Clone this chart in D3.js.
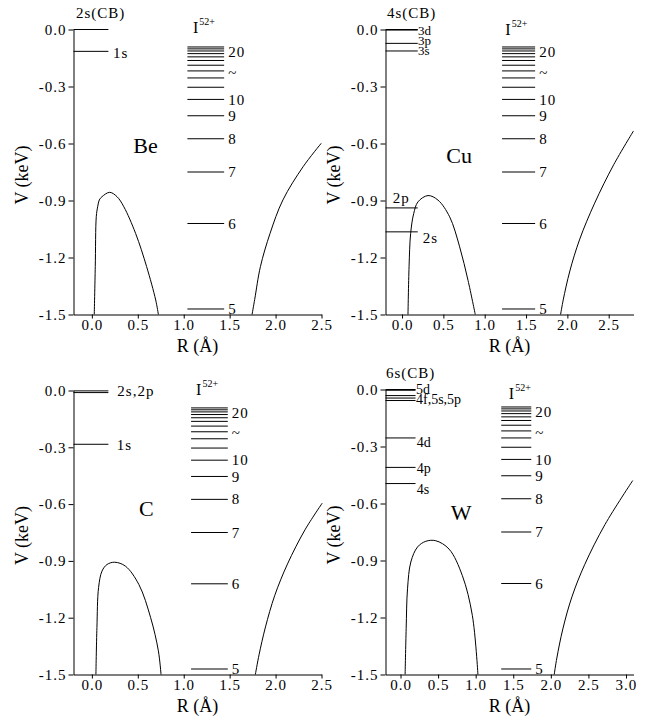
<!DOCTYPE html>
<html>
<head>
<meta charset="utf-8">
<script src="https://cdn.jsdelivr.net/npm/d3@7"></script>
<style>
  body { margin: 0; background: #fff; }
  svg text { font-family: "Liberation Serif", "Times New Roman", serif; fill: #000; }
  .tick text { font-size: 15px; letter-spacing: 1px; }
  .domain, .tick line { stroke: #000; stroke-width: 1; }
</style>
</head>
<body>
<div id="chart"></div>
<script>
// shared y ticks (keV)
const yTicks = [0, -0.3, -0.6, -0.9, -1.2, -1.5];

// I52+ levels n = 5 ... 20 (keV)
const ionN = [5, 6, 7, 8, 9, 10, 11, 12, 13, 14, 15, 16, 17, 18, 19, 20];
const ionV = [-1.471, -1.021, -0.750, -0.575, -0.454, -0.368, -0.304, -0.255,
              -0.218, -0.188, -0.163, -0.144, -0.127, -0.113, -0.102, -0.092];
const ionLabels = ["5", "6", "7", "8", "9", "10", "~", "20"];
const ionLabelV = [-1.471, -1.021, -0.750, -0.575, -0.454, -0.368, -0.226, -0.117];

// Be
const beXTicks = [0, 0.5, 1, 1.5, 2, 2.5];
const beLevelV = [0, -0.115];
const beLevelNames = ["2s(CB)", "1s"];
const beHumpR = [0.026, 0.037, 0.048, 0.063, 0.081, 0.11, 0.194, 0.274, 0.348, 0.476, 0.596, 0.695, 0.724];
const beHumpV = [-1.5, -1.248, -0.985, -0.933, -0.897, -0.88, -0.857, -0.88, -0.933, -1.073, -1.248, -1.424, -1.5];
const beWallR = [1.744, 1.773, 1.835, 1.94, 2.08, 2.30, 2.497];
const beWallV = [-1.5, -1.42, -1.248, -1.073, -0.897, -0.722, -0.599];

// Cu
const cuXTicks = [0, 0.5, 1, 1.5, 2, 2.5];
const cuLevelV = [0, -0.003, -0.073, -0.113, -0.939, -1.065];
const cuLevelNames = ["4s(CB)", "3d", "3p", "3s", "2p", "2s"];
const cuHumpR = [0.072, 0.085, 0.104, 0.141, 0.193, 0.314, 0.435, 0.576, 0.697, 0.798, 0.886];
const cuHumpV = [-1.5, -1.249, -1.074, -0.969, -0.907, -0.874, -0.898, -0.986, -1.144, -1.32, -1.5];
const cuWallR = [1.918, 1.95, 2.03, 2.15, 2.33, 2.56, 2.80];
const cuWallV = [-1.5, -1.423, -1.271, -1.103, -0.914, -0.712, -0.534];

// C
const cXTicks = [0, 0.5, 1, 1.5, 2, 2.5];
const cLevelV = [-0.002, -0.011, -0.284];
const cLevelNames = ["2s,2p", "", "1s"];
const cHumpR = [0.044, 0.055, 0.073, 0.11, 0.165, 0.249, 0.366, 0.512, 0.640, 0.724, 0.753];
const cHumpV = [-1.5, -1.252, -1.041, -0.954, -0.919, -0.907, -0.928, -1.025, -1.2, -1.375, -1.5];
const cWallR = [1.78, 1.82, 1.89, 1.99, 2.13, 2.32, 2.508];
const cWallV = [-1.5, -1.396, -1.249, -1.084, -0.916, -0.736, -0.595];

// W
const wXTicks = [0, 0.5, 1, 1.5, 2, 2.5, 3];
const wLevelV = [0, -0.004, -0.032, -0.045, -0.058, -0.255, -0.41, -0.495];
const wLevelNames = ["6s(CB)", "5d", "4f,5s,5p", "", "", "4d", "4p", "4s"];
const wHumpR = [0.061, 0.075, 0.093, 0.137, 0.226, 0.336, 0.469, 0.646, 0.823, 0.956, 1.03];
const wHumpV = [-1.5, -1.259, -1.049, -0.908, -0.829, -0.799, -0.796, -0.84, -0.98, -1.19, -1.5];
const wWallR = [2.045, 2.08, 2.16, 2.28, 2.45, 2.72, 3.09];
const wWallV = [-1.5, -1.413, -1.26, -1.092, -0.922, -0.711, -0.479];

// layout: [x, baselineOffset, fontSize] per level label, px
const panels = [
  { name: "Be", left: 73.5, top: 29.5, h: 285, xMax: 2.5, xTicks: beXTicks,
    levelV: beLevelV, levelNames: beLevelNames, levelEnd: 0.18,
    labelPos: [[2.5, -11.5, 15], [39.5, 6.5, 15]],
    humpR: beHumpR, humpV: beHumpV, wallR: beWallR, wallV: beWallV,
    ladder: [1.04, 1.44], ionDx: 5.6, ionDy: 3.8, nameAt: [0.45, -0.65] },
  { name: "Cu", left: 385.5, top: 29.5, h: 285, xMax: 2.8, xTicks: cuXTicks,
    levelV: cuLevelV, levelNames: cuLevelNames, levelEnd: 0.19,
    labelPos: [[1.5, -11.2, 15], [32.5, 5, 13], [32.5, 1.6, 13], [32.5, 4, 13], [7.2, -5, 15], [37.2, 11.4, 15]],
    humpR: cuHumpR, humpV: cuHumpV, wallR: cuWallR, wallV: cuWallV,
    ladder: [1.21, 1.61], ionDx: 3.3, ionDy: 5.5, nameAt: [0.536, -0.705] },
  { name: "C", left: 73.5, top: 390.5, h: 284, xMax: 2.5, xTicks: cXTicks,
    levelV: cLevelV, levelNames: cLevelNames, levelEnd: 0.18,
    labelPos: [[43.8, 5, 15], null, [43.2, 5.8, 15]],
    humpR: cHumpR, humpV: cHumpV, wallR: cWallR, wallV: cWallV,
    ladder: [1.08, 1.48], ionDx: 5, ionDy: 4.8, nameAt: [0.512, -0.665] },
  { name: "W", left: 385.5, top: 389.5, h: 285, xMax: 3.1, xTicks: wXTicks,
    levelV: wLevelV, levelNames: wLevelNames, levelEnd: 0.2,
    labelPos: [[0.5, -11.5, 15], [30.5, 3.7, 14], [30.5, 8, 14], null, null, [31.2, 9, 14], [31.2, 5.3, 14], [31.2, 10, 14]],
    humpR: wHumpR, humpV: wHumpV, wallR: wWallR, wallV: wWallV,
    ladder: [1.34, 1.74], ionDx: 7.6, ionDy: 9.2, nameAt: [0.667, -0.689] }
];

const W = 652, H = 725, plotW = 248;
const fmt = d => d.toFixed(1);

const svg = d3.select('#chart').append('svg')
  .attr('width', W).attr('height', H);

panels.forEach(p => {
  const x = d3.scaleLinear().domain([-0.2, p.xMax]).range([0, plotW]);
  const y = d3.scaleLinear().domain([-1.5, 0]).range([p.h, 0]);

  const g = svg.append('g').attr('transform', `translate(${p.left}, ${p.top})`);

  // axes
  g.append('g')
    .attr('transform', `translate(0, ${p.h})`)
    .call(d3.axisBottom(x).tickValues(p.xTicks).tickFormat(fmt).tickSize(4).tickSizeOuter(0).tickPadding(1));
  g.append('g')
    .call(d3.axisLeft(y).tickValues(yTicks).tickFormat(fmt).tickSize(5).tickSizeOuter(0).tickPadding(2));

  g.append('text')
    .attr('x', plotW / 2).attr('y', p.h + 37)
    .attr('text-anchor', 'middle')
    .style('font-size', '18px')
    .text('R (Å)');
  g.append('text')
    .attr('transform', `translate(-45.5, ${p.h / 2 + 3}) rotate(-90)`)
    .attr('text-anchor', 'middle')
    .style('font-size', '18px')
    .text('V (keV)');

  // potential curves (smooth through the read-off points)
  const line = d3.line()
    .x(d => x(d[0]))
    .y(d => y(d[1]))
    .curve(d3.curveCatmullRom.alpha(0.5));
  [[p.humpR, p.humpV], [p.wallR, p.wallV]].forEach(([rs, vs]) => {
    g.append('path')
      .datum(rs.map((r, i) => [r, vs[i]]))
      .attr('fill', 'none')
      .attr('stroke', '#000')
      .attr('stroke-width', 1)
      .attr('d', line);
  });

  // target levels
  g.selectAll('.lvl')
    .data(p.levelV)
    .enter().append('line')
    .attr('class', 'lvl')
    .attr('x1', x(-0.2)).attr('x2', x(p.levelEnd))
    .attr('y1', d => y(d)).attr('y2', d => y(d))
    .attr('stroke', '#000').attr('stroke-width', 1);

  p.levelNames.forEach((nm, i) => {
    const pos = p.labelPos[i];
    if (!nm || !pos) return;
    g.append('text')
      .attr('x', pos[0])
      .attr('y', y(p.levelV[i]) + pos[1])
      .style('font-size', pos[2] + 'px')
      .style('letter-spacing', pos[2] >= 15 ? '1px' : '0px')
      .text(nm);
  });

  // I52+ ladder
  g.selectAll('.ion')
    .data(ionV)
    .enter().append('line')
    .attr('class', 'ion')
    .attr('x1', x(p.ladder[0])).attr('x2', x(p.ladder[1]))
    .attr('y1', d => y(d)).attr('y2', d => y(d))
    .attr('stroke', '#000').attr('stroke-width', 1);

  ionLabels.forEach((t, i) => {
    g.append('text')
      .attr('x', x(p.ladder[1]) + 4)
      .attr('y', y(ionLabelV[i]))
      .attr('dy', '0.34em')
      .style('font-size', '15px')
      .style('letter-spacing', '1px')
      .text(t);
  });

  const ion = g.append('text')
    .attr('x', x(p.ladder[0]) + p.ionDx)
    .attr('y', y(0) + p.ionDy)
    .style('font-size', '16px');
  ion.append('tspan').text('I');
  ion.append('tspan').attr('dy', -8).attr('dx', 1).style('font-size', '10px').text('52+');

  // element name
  g.append('text')
    .attr('x', x(p.nameAt[0]))
    .attr('y', y(p.nameAt[1]))
    .style('font-size', '22px')
    .text(p.name);
});
</script>
</body>
</html>
